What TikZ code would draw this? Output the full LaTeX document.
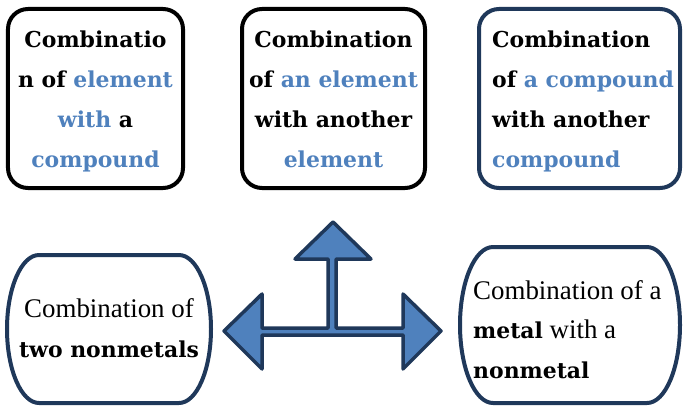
\documentclass[tikz,border=0pt]{standalone}
\usepackage{fontspec}
\setmainfont{Liberation Serif}
\newfontfamily\boldserif{DejaVu Serif}[UprightFont={* Bold}]
\definecolor{navy}{HTML}{1F385A}
\definecolor{accent}{HTML}{4F81BD}
\begin{document}
\begin{tikzpicture}[x=1bp,y=1bp,
  boxblack/.style={draw=black,line width=4bp,rounded corners=20bp,inner sep=0pt},
  boxnavy/.style={draw=navy,line width=4bp,rounded corners=20bp,inner sep=0pt},
  ovalbox/.style={draw=navy,line width=4bp,fill=white},
  arrowshape/.style={draw=navy,fill=accent,line width=3.5bp,line join=round},
  txt/.style={inner sep=0pt,font=\fontsize{27}{27}\selectfont,anchor=base},
  txtl/.style={txt,anchor=base west},
  btxt/.style={inner sep=0pt,anchor=base,font=\boldserif\fontsize{22}{22}\selectfont},
  btxtl/.style={btxt,anchor=base west}]
\useasboundingbox (0,0) rectangle (683,407);
% top boxes
\node[boxblack,minimum width=175bp,minimum height=179bp] (b1) at (95.5,308.5) {};
\node[boxblack,minimum width=183bp,minimum height=179bp] (b2) at (333.5,308.5) {};
\node[boxnavy,minimum width=201bp,minimum height=179bp] (b3) at (579.5,308.5) {};
% bottom boxes
\draw[ovalbox] (39,152) -- (179,152) arc[start angle=90,end angle=-90,x radius=32,y radius=74]
  -- (39,4) arc[start angle=270,end angle=90,x radius=32,y radius=74] -- cycle;
\draw[ovalbox] (493,160) -- (647,160) arc[start angle=90,end angle=-90,x radius=33,y radius=78]
  -- (493,4) arc[start angle=270,end angle=90,x radius=33,y radius=78] -- cycle;
% arrow
\draw[arrowshape] (328,79) -- (328,148) -- (295,148) -- (333,185) -- (371,148) -- (336,148)
  -- (336,79) -- (403,79) -- (403,113) -- (441,76) -- (403,38) -- (403,72) -- (262,72)
  -- (262,38) -- (224,76) -- (262,113) -- (262,79) -- cycle;
% box 1 text
\node[btxt] (t11) at (95.5,360) {Combinatio};
\node[btxt] (t12) at (95.5,320) {n of \textcolor{accent}{element}};
\node[btxt] (t13) at (95.5,280) {\textcolor{accent}{with} a};
\node[btxt] (t14) at (95.5,240) {\textcolor{accent}{compound}};
% box 2 text
\node[btxt] (t21) at (333.5,360) {Combination};
\node[btxt] (t22) at (333.5,320) {of \textcolor{accent}{an element}};
\node[btxt] (t23) at (333.5,280) {with another};
\node[btxt] (t24) at (333.5,240) {\textcolor{accent}{element}};
% box 3 text
\node[btxtl] (t31) at (492,360) {Combination};
\node[btxtl] (t32) at (492,320) {of \textcolor{accent}{a compound}};
\node[btxtl] (t33) at (492,280) {with another};
\node[btxtl] (t34) at (492,240) {\textcolor{accent}{compound}};
% box 4 text
\node[txt] (t41) at (109,90) {Combination of};
\node[btxt] (t42) at (109,50) {two nonmetals};
% box 5 text
\node[txtl] (t51) at (473,108) {Combination of a};
\node[txtl] (t52) at (473,69) {{\boldserif\fontsize{22}{22}\selectfont metal} with a};
\node[btxtl] (t53) at (473,29) {nonmetal};
\end{tikzpicture}
\end{document}
